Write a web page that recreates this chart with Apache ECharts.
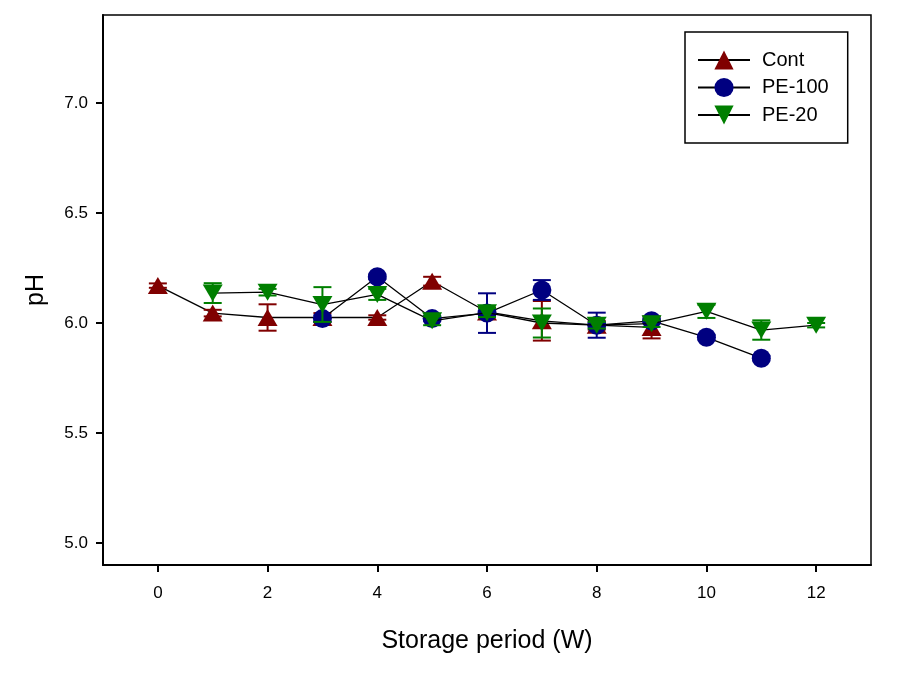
<!DOCTYPE html>
<html><head><meta charset="utf-8">
<script src="https://cdn.jsdelivr.net/npm/echarts@6/dist/echarts.min.js"></script>
<style>html,body{margin:0;padding:0;background:#fff}#c{width:904px;height:673px}</style>
</head><body><div id="c"></div>
<script>
const contX = [0,1,2,3,4,5,6,7,8,9];
const contY = [6.17,6.045,6.025,6.025,6.025,6.19,6.05,6.01,5.99,5.98];
const contErr = [0.01,0.015,0.06,0.02,0.01,0.02,0.02,0.09,0.02,0.05];
const pe100X = [3,4,5,6,7,8,9,10,11];
const pe100Y = [6.02,6.21,6.02,6.045,6.15,5.99,6.01,5.935,5.84];
const pe100Err = [0.015,0.01,0.01,0.09,0.045,0.057,0.01,0.01,0.01];
const pe20X = [1,2,3,4,5,6,7,8,9,10,11,12];
const pe20Y = [6.136,6.14,6.084,6.13,6.01,6.047,6.0,5.99,5.997,6.053,5.968,5.99];
const pe20Err = [0.045,0.015,0.079,0.025,0.02,0.02,0.066,0.015,0.015,0.03,0.044,0.01];
const xTicks = [0,2,4,6,8,10,12];
const yTicks = [5.0,5.5,6.0,6.5,7.0];

const FONT = 'Liberation Sans, Arial, sans-serif';
const pts = (xs, ys) => xs.map((x,i)=>[x, ys[i]]);
const errs = (xs, ys, es) => xs.map((x,i)=>[x, ys[i]-es[i], ys[i]+es[i]]);

function errSeries(name, data, color, z) {
  return {
    type: 'custom', name: name + '_err', z: z, silent: true,
    data: data,
    renderItem: function (params, api) {
      const x = api.value(0);
      const lo = api.coord([x, api.value(1)]);
      const hi = api.coord([x, api.value(2)]);
      const hw = 9;
      const st = {stroke: color, lineWidth: 2};
      return {type: 'group', children: [
        {type: 'line', shape: {x1: lo[0], y1: lo[1], x2: hi[0], y2: hi[1]}, style: st},
        {type: 'line', shape: {x1: lo[0]-hw, y1: lo[1], x2: lo[0]+hw, y2: lo[1]}, style: st},
        {type: 'line', shape: {x1: hi[0]-hw, y1: hi[1], x2: hi[0]+hw, y2: hi[1]}, style: st}
      ]};
    }
  };
}

const chart = echarts.init(document.getElementById('c'));
chart.setOption({
  animation: false,
  grid: {left: 103, right: 33, top: 15, bottom: 108, show: true, borderColor: '#000', borderWidth: 1.5, backgroundColor: 'transparent'},
  xAxis: {
    type: 'value', min: -1, max: 13,
    name: 'Storage period (W)', nameLocation: 'middle', nameGap: 64,
    nameTextStyle: {fontFamily: FONT, fontSize: 25, color: '#000'},
    axisLine: {show: true, onZero: false, lineStyle: {color: '#000', width: 2}},
    axisTick: {show: true, inside: false, length: 7, lineStyle: {color: '#000', width: 2}, customValues: xTicks},
    axisLabel: {fontFamily: FONT, fontSize: 17, color: '#000', margin: 20, customValues: xTicks},
    splitLine: {show: false}
  },
  yAxis: {
    type: 'value', min: 4.9, max: 7.4,
    name: 'pH', nameLocation: 'middle', nameGap: 54, nameRotate: 90,
    nameTextStyle: {fontFamily: FONT, fontSize: 25, color: '#000'},
    axisLine: {show: true, onZero: false, lineStyle: {color: '#000', width: 2}},
    axisTick: {show: true, inside: false, length: 7, lineStyle: {color: '#000', width: 2}, customValues: yTicks},
    axisLabel: {fontFamily: FONT, fontSize: 17, color: '#000', margin: 15, customValues: yTicks,
      formatter: v => Number(v).toFixed(1)},
    splitLine: {show: false}
  },
  legend: {
    orient: 'vertical', left: 685, top: 32,
    data: ['Cont', 'PE-100', 'PE-20'],
    itemWidth: 52, itemHeight: 24, itemGap: 3.5,
    padding: [16, 19, 16, 12],
    borderColor: '#000', borderWidth: 1.5, backgroundColor: '#fff',
    textStyle: {fontFamily: FONT, fontSize: 20, color: '#000', padding: [2, 0, 2, 7], lineHeight: 20}
  },
  series: [
    {name: 'Cont', type: 'line', data: pts(contX, contY), z: 2,
     symbol: 'triangle', symbolSize: [20, 17],
     lineStyle: {color: '#000', width: 1.3}, itemStyle: {color: '#800000'}},
    errSeries('Cont', errs(contX, contY, contErr), '#800000', 3),
    {name: 'PE-100', type: 'line', data: pts(pe100X, pe100Y), z: 4,
     symbol: 'circle', symbolSize: 19,
     lineStyle: {color: '#000', width: 1.3}, itemStyle: {color: '#000080'}},
    errSeries('PE-100', errs(pe100X, pe100Y, pe100Err), '#000080', 5),
    {name: 'PE-20', type: 'line', data: pts(pe20X, pe20Y), z: 6,
     symbol: 'triangle', symbolRotate: 180, symbolSize: [20, 17],
     lineStyle: {color: '#000', width: 1.3}, itemStyle: {color: '#007f00'}},
    errSeries('PE-20', errs(pe20X, pe20Y, pe20Err), '#007f00', 7)
  ]
});
</script></body></html>
